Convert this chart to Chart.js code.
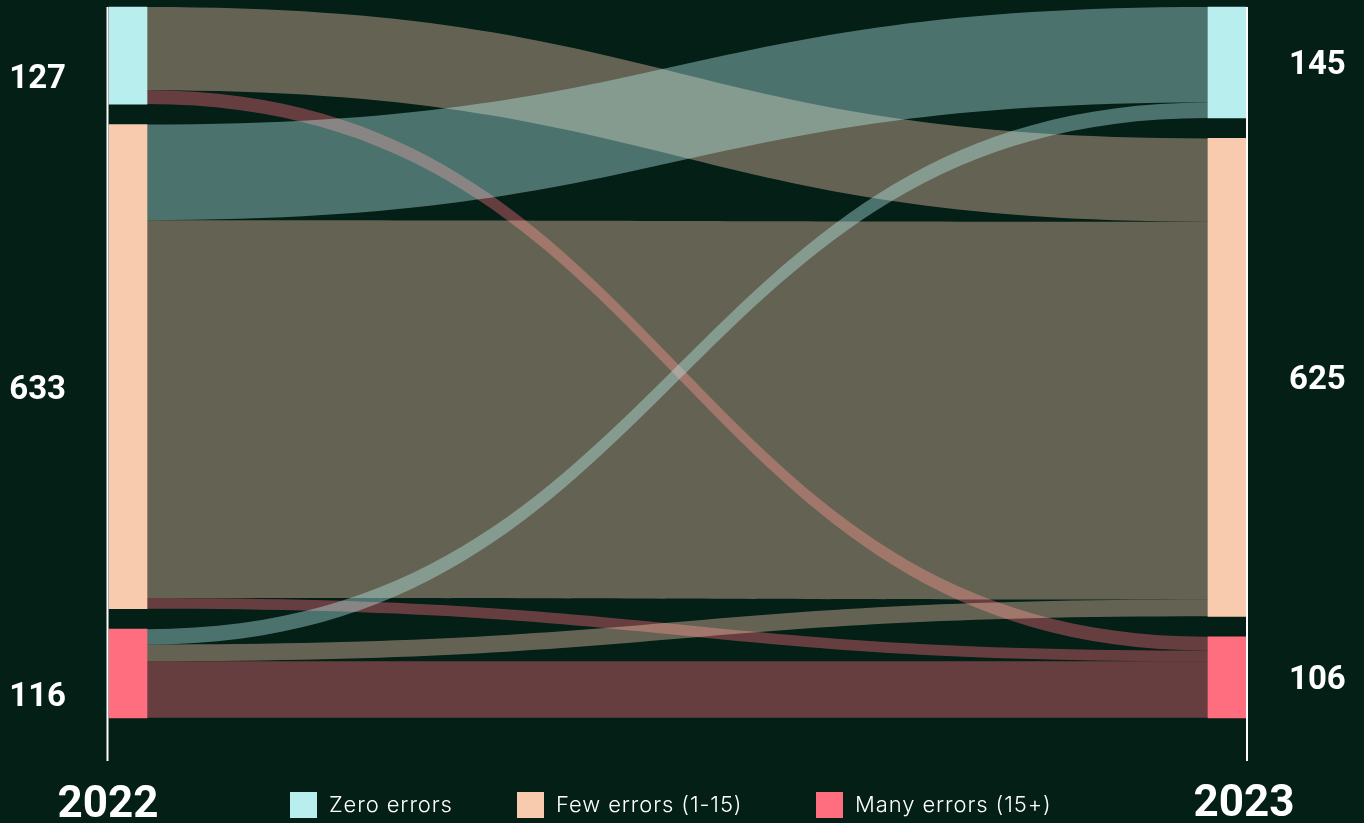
<!DOCTYPE html>
<html><head><meta charset="utf-8">
<script src="https://cdn.jsdelivr.net/npm/chart.js@4.4.0/dist/chart.umd.min.js"></script>
<style>html,body{margin:0;padding:0;background:#031f16;overflow:hidden}#wrap{width:1364px;height:823px;position:relative}</style>
</head><body><div id="wrap"><canvas id="c"></canvas></div>
<script>
// ---- data ----
const years = ['2022', '2023'];
const categories = ['Zero errors', 'Few errors (1-15)', 'Many errors (15+)'];
const totals2022 = [127, 633, 116];
const totals2023 = [145, 625, 106];
// flows from each 2022 group to [Zero, Few, Many] in 2023
const fromZero = [0, 109, 18];
const fromFew = [125, 494, 14];
const fromMany = [20, 22, 74];
const flowMatrix = [fromZero, fromFew, fromMany];
const colors = ['#b8efee', '#f8cbae', '#ff6e7e'];

// ---- layout constants ----
const NODE_GAP = 26.8;
const Y_MAX = 986;
const NODE_W = 38;
const FLOW_ALPHA = 0.4;

function stackSpans(totals) {
  let y = 0;
  return totals.map(t => { const s = [y, y + t]; y += t + NODE_GAP; return s; });
}
const spans2022 = stackSpans(totals2022);
const spans2023 = stackSpans(totals2023);

function hexA(hex, a) {
  const n = parseInt(hex.slice(1), 16);
  return `rgba(${(n >> 16) & 255},${(n >> 8) & 255},${n & 255},${a})`;
}

const sankeyPlugin = {
  id: 'sankeyFlows',
  beforeDatasetsDraw(chart) {
    const {ctx, scales: {x, y}} = chart;
    const xs = x.getPixelForValue(0) + NODE_W / 2;
    const xt = x.getPixelForValue(1) - NODE_W / 2;
    const xm = (xs + xt) / 2;
    const outOff = spans2022.map(s => s[0]);
    const inOff = spans2023.map(s => s[0]);
    const flows = [];
    for (let i = 0; i < 3; i++) {
      for (let j = 0; j < 3; j++) {
        const v = flowMatrix[i][j];
        flows.push({i, j, v, s0: outOff[i], s1: outOff[i] + v});
        outOff[i] += v;
      }
    }
    for (let j = 0; j < 3; j++) {
      for (let i = 0; i < 3; i++) {
        const f = flows.find(f => f.i === i && f.j === j);
        f.t0 = inOff[j]; f.t1 = inOff[j] + f.v; inOff[j] += f.v;
      }
    }
    ctx.save();
    flows.forEach(f => {
      if (!f.v) return;
      const a0 = y.getPixelForValue(f.s0), a1 = y.getPixelForValue(f.s1);
      const b0 = y.getPixelForValue(f.t0), b1 = y.getPixelForValue(f.t1);
      ctx.beginPath();
      ctx.moveTo(xs, a0);
      ctx.bezierCurveTo(xm, a0, xm, b0, xt, b0);
      ctx.lineTo(xt, b1);
      ctx.bezierCurveTo(xm, b1, xm, a1, xs, a1);
      ctx.closePath();
      ctx.fillStyle = hexA(colors[f.j], FLOW_ALPHA);
      ctx.fill();
    });
    ctx.restore();
  },
  afterDraw(chart) {
    const {ctx, scales: {x, y}, chartArea} = chart;
    const leftEdge = x.getPixelForValue(0) - NODE_W / 2;
    const rightEdge = x.getPixelForValue(1) + NODE_W / 2;
    ctx.save();
    // axis lines
    ctx.fillStyle = '#ffffff';
    ctx.fillRect(leftEdge - 2.5, chartArea.top, 2, chartArea.bottom - chartArea.top);
    ctx.fillRect(rightEdge, chartArea.top, 2, chartArea.bottom - chartArea.top);
    // node value labels
    ctx.font = '700 33px Roboto';
    ctx.textBaseline = 'middle';
    ctx.textAlign = 'right';
    totals2022.forEach((t, i) => {
      const cy = y.getPixelForValue((spans2022[i][0] + spans2022[i][1]) / 2) + 24;
      ctx.fillText(String(t), leftEdge - 43, cy);
    });
    ctx.textAlign = 'left';
    totals2023.forEach((t, i) => {
      const cy = y.getPixelForValue((spans2023[i][0] + spans2023[i][1]) / 2) + 3;
      ctx.fillText(String(t), rightEdge + 43, cy);
    });
    // year labels
    ctx.font = '700 44px Roboto';
    ctx.textAlign = 'center';
    ctx.textBaseline = 'alphabetic';
    ctx.fillText(years[0], leftEdge - 1, 817);
    ctx.fillText(years[1], rightEdge - 2, 816);
    // legend
    const legendX = [290, 517, 816];
    ctx.font = '300 22px Inter';
    ctx.letterSpacing = '0.9px';
    ctx.textAlign = 'left';
    ctx.textBaseline = 'middle';
    categories.forEach((c, i) => {
      ctx.fillStyle = colors[i];
      ctx.fillRect(legendX[i], 792, 27, 26);
      ctx.fillStyle = '#ffffff';
      ctx.fillText(c, legendX[i] + 39, 805);
    });
    ctx.restore();
  }
};

new Chart(document.getElementById('c'), {
  type: 'bar',
  data: {
    datasets: categories.map((c, i) => ({
      label: c,
      data: [{x: 0, y: spans2022[i]}, {x: 1, y: spans2023[i]}],
      backgroundColor: colors[i],
      borderWidth: 0,
      barThickness: NODE_W,
      grouped: false,
      clip: false
    }))
  },
  options: {
    responsive: true,
    maintainAspectRatio: false,
    animation: false,
    layout: {padding: {left: 128, right: 137, top: 7, bottom: 62}},
    scales: {
      x: {type: 'linear', min: 0, max: 1, offset: false, display: false},
      y: {type: 'linear', min: 0, max: Y_MAX, reverse: true, display: false}
    },
    plugins: {legend: {display: false}, tooltip: {enabled: false}}
  },
  plugins: [sankeyPlugin]
});
</script></body></html>
